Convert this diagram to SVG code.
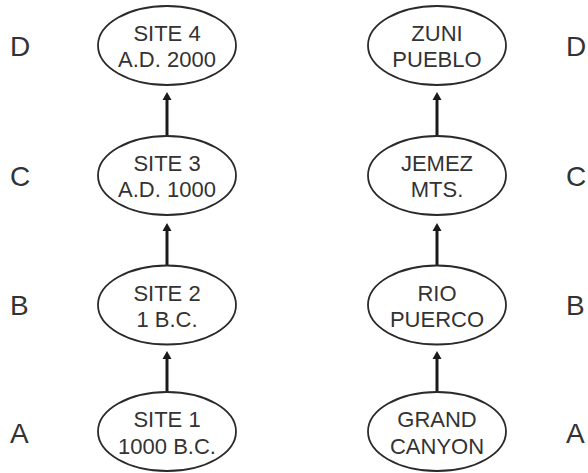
<svg xmlns="http://www.w3.org/2000/svg" width="588" height="473" viewBox="0 0 588 473">
<style>
.n ellipse{fill:#fff;stroke:#2a2a2a;stroke-width:1.8}
.n text{font-family:"Liberation Sans",Arial,sans-serif;font-size:22px;fill:#333;text-anchor:middle}
.lbl text{font-family:"Liberation Sans",Arial,sans-serif;font-size:28px;fill:#333}
.c line{stroke:#1a1a1a;stroke-width:3}
</style>
<defs>
<marker id="ah" markerUnits="userSpaceOnUse" markerWidth="10" markerHeight="12" refX="0" refY="5" viewBox="0 0 10 10" orient="auto" overflow="visible">
<path d="M0,0.5 L8,5 L0,9.5 z" fill="#1a1a1a"/>
</marker>
</defs>
<g class="lbl">
<text x="10" y="56">D</text>
<text x="10" y="186">C</text>
<text x="10" y="315">B</text>
<text x="10" y="443">A</text>
<text x="566" y="56">D</text>
<text x="566" y="186">C</text>
<text x="566" y="315">B</text>
<text x="566" y="443">A</text>
</g>
<g class="c">
<line x1="167" y1="136" x2="167" y2="100" marker-end="url(#ah)"/>
<line x1="167" y1="265" x2="167" y2="231" marker-end="url(#ah)"/>
<line x1="167" y1="392" x2="167" y2="359" marker-end="url(#ah)"/>
<line x1="437" y1="136" x2="437" y2="100" marker-end="url(#ah)"/>
<line x1="437" y1="265" x2="437" y2="231" marker-end="url(#ah)"/>
<line x1="437" y1="392" x2="437" y2="359" marker-end="url(#ah)"/>
</g>
<g id="site4" class="n"><ellipse cx="167" cy="45.5" rx="69" ry="39.5"/><text x="167" y="41">SITE 4</text><text x="167" y="67">A.D. 2000</text></g>
<g id="site3" class="n"><ellipse cx="167" cy="175.5" rx="69" ry="39.5"/><text x="167" y="171">SITE 3</text><text x="167" y="197">A.D. 1000</text></g>
<g id="site2" class="n"><ellipse cx="167" cy="305" rx="69" ry="39.5"/><text x="167" y="300.5">SITE 2</text><text x="167" y="326.5">1 B.C.</text></g>
<g id="site1" class="n"><ellipse cx="167" cy="431.5" rx="69" ry="39.5"/><text x="167" y="427">SITE 1</text><text x="167" y="453.5">1000 B.C.</text></g>
<g id="zuni" class="n"><ellipse cx="437" cy="45.5" rx="69" ry="39.5"/><text x="437" y="41">ZUNI</text><text x="437" y="67">PUEBLO</text></g>
<g id="jemez" class="n"><ellipse cx="437" cy="175.5" rx="69" ry="39.5"/><text x="437" y="171">JEMEZ</text><text x="437" y="197">MTS.</text></g>
<g id="rio" class="n"><ellipse cx="437" cy="305" rx="69" ry="39.5"/><text x="437" y="300.5">RIO</text><text x="437" y="326.5">PUERCO</text></g>
<g id="grand" class="n"><ellipse cx="437" cy="431.5" rx="69" ry="39.5"/><text x="437" y="427">GRAND</text><text x="437" y="453.5">CANYON</text></g>
</svg>
